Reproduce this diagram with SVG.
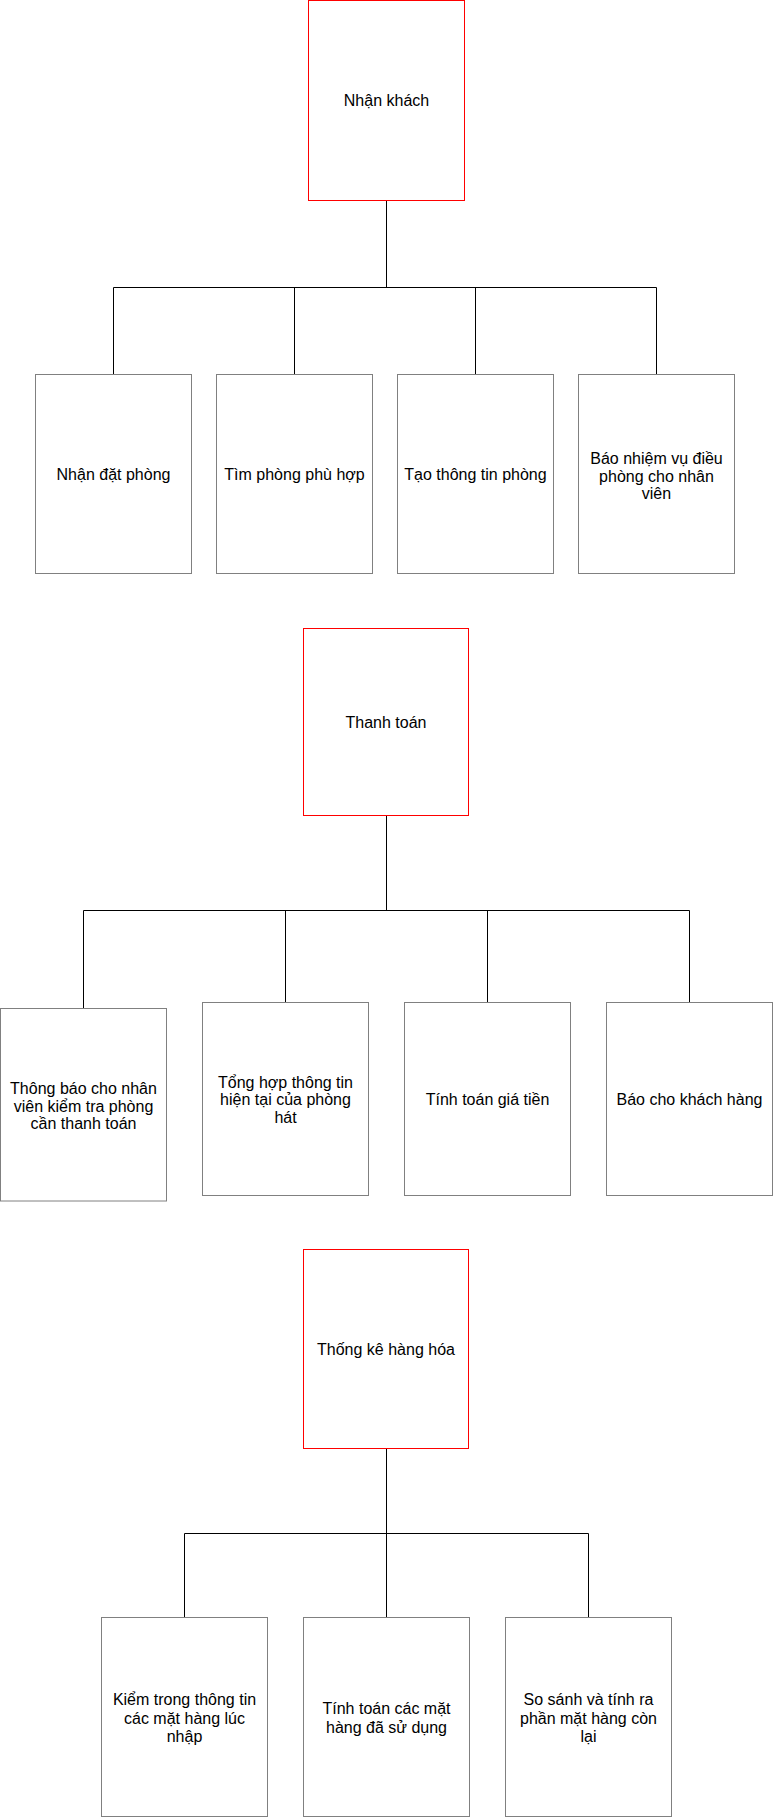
<svg xmlns="http://www.w3.org/2000/svg" width="773" height="1817" viewBox="0 0 773 1817">
<style>
.root{fill:#fff;stroke:#ff0000;stroke-width:1}
.child{fill:#fff;stroke:#808080;stroke-width:1}
.conn{fill:none;stroke:#000;stroke-width:1}
text{font-family:"Liberation Sans",Arial,sans-serif;font-size:16px;fill:#000;text-anchor:middle}
</style>
<rect width="773" height="1817" fill="#fff"/>
<g id="connectors">
<path class="conn" d="M386.5 200.5V287.5M113.5 287.5H656.5M113.5 287.5V374.5M294.5 287.5V374.5M475.5 287.5V374.5M656.5 287.5V374.5"/>
<path class="conn" d="M386.5 815.5V910.5M83.5 910.5H689.5M83.5 910.5V1008.5M285.5 910.5V1002.5M487.5 910.5V1002.5M689.5 910.5V1002.5"/>
<path class="conn" d="M386.5 1448.5V1533.5M184.5 1533.5H588.5M184.5 1533.5V1617.5M386.5 1533.5V1617.5M588.5 1533.5V1617.5"/>
</g>
<g id="nhan-khach"><rect class="root" x="308.5" y="0.5" width="156" height="200"/><text x="386.5" y="106">Nhận khách</text></g>
<g id="nhan-dat-phong"><rect class="child" x="35.5" y="374.5" width="156" height="199"/><text x="113.5" y="480">Nhận đặt phòng</text></g>
<g id="tim-phong"><rect class="child" x="216.5" y="374.5" width="156" height="199"/><text x="294.5" y="480">Tìm phòng phù hợp</text></g>
<g id="tao-thong-tin"><rect class="child" x="397.5" y="374.5" width="156" height="199"/><text x="475.5" y="480">Tạo thông tin phòng</text></g>
<g id="bao-nhiem-vu"><rect class="child" x="578.5" y="374.5" width="156" height="199"/><text x="656.5" y="464"><tspan x="656.5">Báo nhiệm vụ điều</tspan><tspan x="656.5" dy="17.5">phòng cho nhân</tspan><tspan x="656.5" dy="17.5">viên</tspan></text></g>

<g id="thanh-toan"><rect class="root" x="303.5" y="628.5" width="165" height="187"/><text x="386" y="728">Thanh toán</text></g>
<g id="thong-bao"><rect class="child" x="0.5" y="1008.5" width="166" height="192.5"/><text x="83.5" y="1094"><tspan x="83.5">Thông báo cho nhân</tspan><tspan x="83.5" dy="17.5">viên kiểm tra phòng</tspan><tspan x="83.5" dy="17.5">cần thanh toán</tspan></text></g>
<g id="tong-hop"><rect class="child" x="202.5" y="1002.5" width="166" height="193"/><text x="285.5" y="1087.5"><tspan x="285.5">Tổng hợp thông tin</tspan><tspan x="285.5" dy="17.5">hiện tại của phòng</tspan><tspan x="285.5" dy="17.5">hát</tspan></text></g>
<g id="tinh-toan-gia"><rect class="child" x="404.5" y="1002.5" width="166" height="193"/><text x="487.5" y="1105">Tính toán giá tiền</text></g>
<g id="bao-khach"><rect class="child" x="606.5" y="1002.5" width="166" height="193"/><text x="689.5" y="1105">Báo cho khách hàng</text></g>

<g id="thong-ke"><rect class="root" x="303.5" y="1249.5" width="165" height="199"/><text x="386" y="1355">Thống kê hàng hóa</text></g>
<g id="kiem-trong"><rect class="child" x="101.5" y="1617.5" width="166" height="199"/><text x="184.5" y="1705"><tspan x="184.5">Kiểm trong thông tin</tspan><tspan x="184.5" dy="18.5">các mặt hàng lúc</tspan><tspan x="184.5" dy="18.5">nhập</tspan></text></g>
<g id="tinh-toan-mat-hang"><rect class="child" x="303.5" y="1617.5" width="166" height="199"/><text x="386.5" y="1714"><tspan x="386.5">Tính toán các mặt</tspan><tspan x="386.5" dy="18.5">hàng đã sử dụng</tspan></text></g>
<g id="so-sanh"><rect class="child" x="505.5" y="1617.5" width="166" height="199"/><text x="588.5" y="1705"><tspan x="588.5">So sánh và tính ra</tspan><tspan x="588.5" dy="18.5">phần mặt hàng còn</tspan><tspan x="588.5" dy="18.5">lại</tspan></text></g>
</svg>
